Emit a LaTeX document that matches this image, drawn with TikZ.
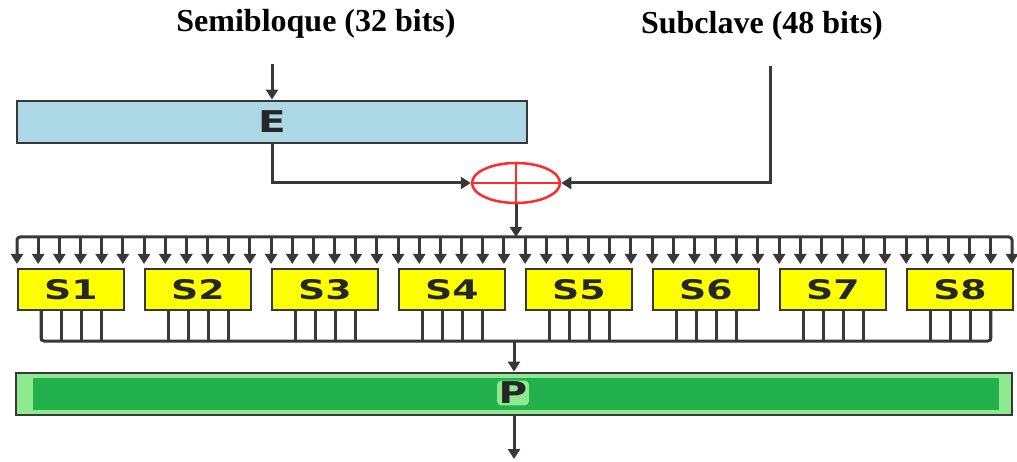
\documentclass[tikz,border=0pt]{standalone}
\usepackage{fontspec}
\usepackage{graphicx}
\setmainfont{Liberation Serif}
\newfontfamily\lblfont{DejaVu Sans}
\usetikzlibrary{arrows.meta,shapes.geometric}

\definecolor{ln}{HTML}{383838}
\definecolor{eblue}{HTML}{ADD8E6}
\definecolor{sy}{HTML}{FFFF00}
\definecolor{pg}{HTML}{22B14C}
\definecolor{pl}{HTML}{8FEA8F}
\definecolor{xr}{HTML}{FF2A2A}

\begin{document}
\begin{tikzpicture}[x=1pt,y=-1pt,
  wire/.style={draw=ln,line width=3pt},
  tipa/.style={-{Triangle[length=10pt,width=12pt]}},
  arr/.style={wire,tipa},
  lbl/.style={font=\lblfont\bfseries\fontsize{27}{27}\selectfont,text=black!85,inner sep=0pt},
  lblbig/.style={font=\lblfont\bfseries\fontsize{30}{30}\selectfont,text=black!85,inner sep=0pt},
  title/.style={font=\bfseries\fontsize{32}{32}\selectfont,text=black,inner sep=0pt,anchor=base},
  sbox/.style={draw=ln,line width=2.5pt,fill=sy,minimum width=106pt,minimum height=41pt,inner sep=0pt},
  ebox/.style={draw=ln,line width=2.8pt,fill=eblue,minimum width=510pt,minimum height=42pt,inner sep=0pt},
  pbox/.style={draw=ln,line width=2.8pt,fill=pl,minimum width=996pt,minimum height=42pt,inner sep=0pt},
  xorn/.style={ellipse,draw=xr,line width=2.5pt,minimum width=88pt,minimum height=40pt,inner sep=0pt}
]
\useasboundingbox (0,0) rectangle (1017,462);

% titles
\node[title] (sb) at (316,32) {Semibloque (32 bits)};
\node[title] (sk) at (762,34) {Subclave (48 bits)};

% E box
\node[ebox] (E) at (272,122) {};
\node[lblbig] (Elbl) at (E.center) {\scalebox{1.35}[1]{E}};
\coordinate (ein) at (272,64);
\draw[arr] (ein) -- (E.north);

% XOR
\node[xorn] (xor) at (516,183) {};
\draw[draw=xr,line width=2.5pt] (xor.north) -- (xor.south);
\draw[draw=xr,line width=2.5pt] (xor.west) -- (xor.east);

\draw[arr] (E.south) |- (xor.west);
\coordinate (kin) at (770,66);
\draw[arr] (kin) |- (xor.east);

% input bus
\foreach \k in {0,...,47} {
  \coordinate (t\k) at ({17+21.17*\k},237);
  \coordinate (b\k) at ({17+21.17*\k},264);
}
\draw[wire,rounded corners=3pt,{Triangle[length=10pt,width=12pt]}-{Triangle[length=10pt,width=12pt]}]
  (b0) -- (t0) -- (t47) -- (b47);
\foreach \k in {1,...,46} { \draw[arr] (t\k) -- (b\k); }
\draw[arr] (xor.south) -- (xor.south |- t0);

% S-boxes
\foreach \j in {1,...,8} {
  \node[sbox] (s\j) at ({71+127*(\j-1)},289.5) {};
  \node[lbl] (sl\j) at (s\j.center) {\scalebox{1.4}[1]{S\j}};
  \foreach \i in {0,...,3} {
    \coordinate (ot\j\i) at ({18+127*(\j-1)+23+20.3*\i},310);
    \coordinate (ob\j\i) at ({18+127*(\j-1)+23+20.3*\i},341);
  }
}
\draw[wire,rounded corners=3pt] (ot10) -- (ob10) -- (ob83) -- (ot83);
\foreach \j in {1,...,8} {
  \foreach \i in {0,...,3} { \draw[wire] (ot\j\i) -- (ob\j\i); }
}

% P box
\node[pbox] (P) at (514,394) {};
\fill[pg] (33,378) rectangle (999,410);
\node[lblbig,fill=pl,inner sep=1.5pt,rounded corners=4pt] (Plbl) at (513,393) {\scalebox{1.3}[1]{P}};
\coordinate (bm) at (514,341);
\draw[arr] (bm) -- (P.north);
\coordinate (out) at (514,459);
\draw[arr] (P.south) -- (out);
\end{tikzpicture}
\end{document}
